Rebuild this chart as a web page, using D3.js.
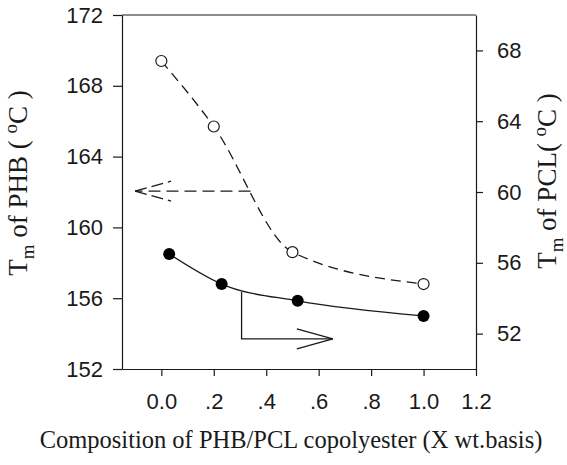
<!DOCTYPE html>
<html>
<head>
<meta charset="utf-8">
<script src="https://cdn.jsdelivr.net/npm/d3@7/dist/d3.min.js"></script>
<style>
  body { margin: 0; background: #fff; }
</style>
</head>
<body>
<div id="canvas"></div>
<script>
"use strict";

/* === Data === */
// PHB melting point, open circles, left axis
let phbComp = [0.0, 0.2, 0.5, 1.0];
let phbTm = [169.4, 165.7, 158.6, 156.8];

// PCL melting point, filled circles, right axis
let pclComp = [0.03, 0.23, 0.52, 1.0];
let pclTm = [56.5, 54.8, 53.85, 53.0];

// axis ticks
let xTicks = [0.0, 0.2, 0.4, 0.6, 0.8, 1.0, 1.2];
let xTickLabels = ["0.0", ".2", ".4", ".6", ".8", "1.0", "1.2"];
let leftTicks = [152, 156, 160, 164, 168, 172];
let rightTicks = [52, 56, 60, 64, 68];

// arrows pointing to each axis (composition, temperature)
let phbArrow = [[0.34, 162.05], [-0.1, 162.05]];
let pclArrow = [[0.306, 54.35], [0.306, 51.7], [0.654, 51.7]];

/* === Sizes === */
let svgWidth = 567;
let svgHeight = 465;
let margin = { top: 15, right: 91, bottom: 96, left: 122 };

let xScale = d3.scaleLinear()
  .domain([-0.15, 1.2])
  .range([margin.left, svgWidth - margin.right]);

let yLeft = d3.scaleLinear()
  .domain([152, 172])
  .range([svgHeight - margin.bottom, margin.top]);

let yRight = d3.scaleLinear()
  .domain([50, 70])
  .range([svgHeight - margin.bottom, margin.top]);

let svg = d3.select("#canvas")
  .append("svg")
  .attr("width", svgWidth)
  .attr("height", svgHeight);

let ink = "#1a1a1a";
let tickFont = "'Liberation Sans', Arial, sans-serif";
let labelFont = "'Liberation Serif', 'Times New Roman', serif";

/* === Axes === */
let bottomAxis = svg.append("g")
  .attr("transform", `translate(0, ${svgHeight - margin.bottom})`)
  .call(d3.axisBottom(xScale)
    .tickValues(xTicks)
    .tickFormat((d, i) => xTickLabels[i])
    .tickSize(7)
    .tickSizeOuter(0)
    .tickPadding(17));

let leftAxis = svg.append("g")
  .attr("transform", `translate(${margin.left}, 0)`)
  .call(d3.axisLeft(yLeft)
    .tickValues(leftTicks)
    .tickSize(9)
    .tickSizeOuter(0)
    .tickPadding(10));

let rightAxis = svg.append("g")
  .attr("transform", `translate(${svgWidth - margin.right}, 0)`)
  .call(d3.axisRight(yRight)
    .tickValues(rightTicks)
    .tickSize(7)
    .tickSizeOuter(0)
    .tickPadding(14));

[bottomAxis, leftAxis, rightAxis].forEach(g => {
  g.selectAll("path, line").attr("stroke", ink).attr("stroke-width", 1.2);
  g.selectAll("text")
    .attr("fill", ink)
    .attr("font-family", tickFont)
    .attr("font-size", "22px");
});

// top border
svg.append("line")
  .attr("x1", margin.left)
  .attr("x2", svgWidth - margin.right)
  .attr("y1", margin.top)
  .attr("y2", margin.top)
  .attr("stroke", ink)
  .attr("stroke-width", 1.2);

/* === Curves === */
let phbPts = phbComp.map((c, i) => [xScale(c), yLeft(phbTm[i])]);
let pclPts = pclComp.map((c, i) => [xScale(c), yRight(pclTm[i])]);

let smooth = d3.line().curve(d3.curveMonotoneX);

svg.append("path")
  .attr("d", smooth(phbPts))
  .attr("fill", "none")
  .attr("stroke", ink)
  .attr("stroke-width", 1.3)
  .attr("stroke-dasharray", "10,6");

svg.append("path")
  .attr("d", smooth(pclPts))
  .attr("fill", "none")
  .attr("stroke", ink)
  .attr("stroke-width", 1.3);

svg.selectAll("circle.phb")
  .data(phbPts)
  .enter()
  .append("circle")
  .classed("phb", true)
  .attr("cx", d => d[0])
  .attr("cy", d => d[1])
  .attr("r", 5.5)
  .attr("fill", "#fff")
  .attr("stroke", ink)
  .attr("stroke-width", 1.2);

svg.selectAll("circle.pcl")
  .data(pclPts)
  .enter()
  .append("circle")
  .classed("pcl", true)
  .attr("cx", d => d[0])
  .attr("cy", d => d[1])
  .attr("r", 6)
  .attr("fill", "#000");

/* === Arrows === */
function arrowHead(tip, dir, dash) {
  // open arrowhead: two lines back from the tip
  let len = 36, half = 10;
  [-half, half].forEach(off => {
    svg.append("line")
      .attr("x1", tip[0])
      .attr("y1", tip[1])
      .attr("x2", tip[0] - dir * len)
      .attr("y2", tip[1] + off)
      .attr("stroke", ink)
      .attr("stroke-width", 1.3)
      .attr("stroke-dasharray", dash);
  });
}

let phbArrowPx = phbArrow.map(p => [xScale(p[0]), yLeft(p[1])]);
svg.append("path")
  .attr("d", d3.line()(phbArrowPx))
  .attr("fill", "none")
  .attr("stroke", ink)
  .attr("stroke-width", 1.3)
  .attr("stroke-dasharray", "12,6");
arrowHead(phbArrowPx[1], -1, "12,5");

let pclArrowPx = pclArrow.map(p => [xScale(p[0]), yRight(p[1])]);
svg.append("path")
  .attr("d", d3.line()(pclArrowPx))
  .attr("fill", "none")
  .attr("stroke", ink)
  .attr("stroke-width", 1.3);
arrowHead(pclArrowPx[2], 1, null);

/* === Labels === */
function sideLabel(x, y, middle, size) {
  let t = svg.append("text")
    .attr("transform", `translate(${x}, ${y}) rotate(-90)`)
    .attr("text-anchor", "middle")
    .attr("font-family", labelFont)
    .attr("font-size", size + "px")
    .attr("fill", ink);
  t.append("tspan").text("T");
  t.append("tspan").attr("font-size", (size * 0.7) + "px").attr("dy", 7).text("m");
  t.append("tspan").attr("dy", -7).text(middle);
  t.append("tspan").attr("font-size", (size * 0.7) + "px").attr("dy", -10).text("o");
  t.append("tspan").attr("dy", 10).text("C )");
}

sideLabel(27, 183, " of PHB ( ", 27);
sideLabel(556, 181, " of PCL( ", 27);

svg.append("text")
  .attr("x", 291)
  .attr("y", 448)
  .attr("text-anchor", "middle")
  .attr("font-family", labelFont)
  .attr("font-size", "24.5px")
  .attr("fill", ink)
  .text("Composition of PHB/PCL copolyester (X wt.basis)");
</script>
</body>
</html>
